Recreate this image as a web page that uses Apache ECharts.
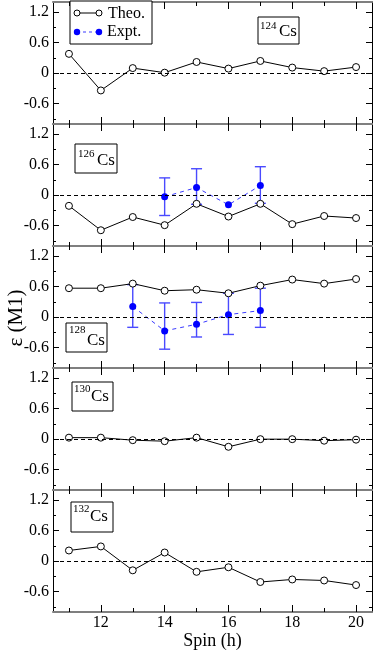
<!DOCTYPE html>
<html><head><meta charset="utf-8">
<script src="https://cdn.jsdelivr.net/npm/echarts@6/dist/echarts.min.js"></script>
<style>html,body{margin:0;padding:0;background:#fff}#c{width:374px;height:651px}</style>
</head><body><div id="c"></div>
<script>
// ---- data ----
const spins = [11, 12, 13, 14, 15, 16, 17, 18, 19, 20];
const nuclei = ['124', '126', '128', '130', '132'];
const theo124 = [0.38, -0.34, 0.10, 0.01, 0.22, 0.09, 0.24, 0.11, 0.04, 0.12];
const theo126 = [-0.21, -0.69, -0.43, -0.59, -0.17, -0.42, -0.17, -0.57, -0.41, -0.45];
const theo128 = [0.57, 0.57, 0.66, 0.52, 0.54, 0.47, 0.62, 0.74, 0.66, 0.75];
const theo130 = [0.03, 0.03, -0.02, -0.04, 0.03, -0.15, 0.00, 0.00, -0.03, -0.01];
const theo132 = [0.21, 0.29, -0.18, 0.17, -0.21, -0.12, -0.41, -0.36, -0.38, -0.47];

const exptSpins126 = [14, 15, 16, 17];
const expt126 = [-0.03, 0.15, -0.19, 0.19];
const errUp126 = [0.37, 0.37, null, 0.37];
const errDown126 = [0.37, 0.33, null, 0.35];

const exptSpins128 = [13, 14, 15, 16, 17];
const expt128 = [0.21, -0.27, -0.14, 0.05, 0.13];
const errUp128 = [0.43, 0.55, 0.43, 0.42, 0.44];
const errDown128 = [0.41, 0.36, 0.25, 0.39, 0.33];

const yMajorTicks = [-0.6, 0, 0.6, 1.2];
const yMinorTicks = [-0.9, -0.3, 0.3, 0.9];
const xMajorTicks = [12, 14, 16, 18, 20];
const xMinorTicks = [11, 13, 15, 17, 19];

// ---- layout ----
const FONT = "'Liberation Serif', 'Times New Roman', serif";
const tops = [2, 124, 246, 368, 490];
const PH = 122, LEFT = 53, WIDTH = 319;
const theoAll = [theo124, theo126, theo128, theo130, theo132];
const expts = {1: [exptSpins126, expt126, errUp126, errDown126], 2: [exptSpins128, expt128, errUp128, errDown128]};

const grids = [], xAxes = [], yAxes = [], series = [];
tops.forEach((t, p) => {
  grids.push({left: LEFT, top: t, width: WIDTH, height: PH, containLabel: false, outerBoundsMode: 'none'});
  const isLast = p === 4;
  const mkX = (pos, ticks, len, showLine, labels) => ({
    gridIndex: p, type: 'value', min: 10.5, max: 20.5, position: pos,
    splitLine: {show: false},
    axisLine: {show: showLine, onZero: false, lineStyle: {color: '#7f7f7f', width: 2}},
    axisTick: {show: true, inside: true, length: len, customValues: ticks, lineStyle: {color: '#000', width: 1}},
    axisLabel: labels ? {show: true, customValues: ticks, margin: 3, color: '#000', fontSize: 16, fontFamily: FONT} : {show: false},
    name: (labels ? 'Spin (h)' : ''), nameLocation: 'middle', nameGap: 19,
    nameTextStyle: {fontSize: 18, fontFamily: FONT, color: '#000'}
  });
  const xb = xAxes.length;
  xAxes.push(mkX('bottom', xMajorTicks, 7, true, isLast));
  xAxes.push(mkX('bottom', xMinorTicks, 4, false, false));
  xAxes.push(mkX('top', xMajorTicks, 7, true, false));
  xAxes.push(mkX('top', xMinorTicks, 4, false, false));
  const mkY = (pos, ticks, len, showLine, labels) => ({
    gridIndex: p, type: 'value', min: -1.0, max: 1.4, position: pos,
    splitLine: {show: false},
    axisLine: {show: showLine, onZero: false, lineStyle: {color: '#000', width: 1}},
    axisTick: {show: true, inside: true, length: len, customValues: ticks, lineStyle: {color: '#000', width: 1}},
    axisLabel: labels ? {show: true, customValues: ticks, margin: 4, color: '#000', fontSize: 16, fontFamily: FONT,
      formatter: v => (Math.abs(v) < 1e-9 ? '0' : String(Math.round(v * 10) / 10))} : {show: false}
  });
  const yb = yAxes.length;
  yAxes.push(mkY('left', yMajorTicks, 6, true, true));
  yAxes.push(mkY('left', yMinorTicks, 3, false, false));
  yAxes.push(mkY('right', yMajorTicks, 6, true, false));
  yAxes.push(mkY('right', yMinorTicks, 3, false, false));

  const e = expts[p];
  if (e) {
    const [xs, vs, up, dn] = e;
    series.push({
      type: 'custom', xAxisIndex: xb, yAxisIndex: yb, z: 2, silent: true,
      encode: {x: 0, y: [1, 2]},
      data: xs.map((x, i) => up[i] == null ? null : [x, vs[i] - dn[i], vs[i] + up[i]]).filter(Boolean),
      renderItem: (params, api) => {
        const x = api.value(0);
        const a = api.coord([x, api.value(1)]);
        const b = api.coord([x, api.value(2)]);
        const w = 5.5;
        const style = {stroke: '#4a4aff', lineWidth: 1.4};
        return {type: 'group', children: [
          {type: 'line', shape: {x1: a[0], y1: a[1], x2: b[0], y2: b[1]}, style},
          {type: 'line', shape: {x1: a[0] - w, y1: a[1], x2: a[0] + w, y2: a[1]}, style},
          {type: 'line', shape: {x1: b[0] - w, y1: b[1], x2: b[0] + w, y2: b[1]}, style}
        ]};
      }
    });
    series.push({
      type: 'line', xAxisIndex: xb, yAxisIndex: yb, z: 3, silent: true, animation: false,
      data: xs.map((x, i) => [x, vs[i]]),
      symbol: 'circle', symbolSize: 7,
      itemStyle: {color: '#0000ff'},
      lineStyle: {color: '#3a3aff', width: 1, type: [4, 4]}
    });
  }
  series.push({
    type: 'line', xAxisIndex: xb, yAxisIndex: yb, z: 4, silent: true, animation: false,
    data: spins.map((s, i) => [s, theoAll[p][i]]),
    symbol: 'circle', symbolSize: 7, showAllSymbol: true,
    itemStyle: {color: '#fff', borderColor: '#000', borderWidth: 1},
    lineStyle: {color: '#000', width: 1},
    markLine: {silent: true, symbol: 'none', label: {show: false}, animation: false,
      lineStyle: {color: '#000', width: 1, type: [4, 3]}, data: [{yAxis: 0}]}
  });
});

// ---- annotation boxes ----
const boxes = [
  {x: 258, y: 17, w: 41, h: 27, sx: 260, sy: 21, cx: 279, cy: 32},
  {x: 75, y: 144, w: 42, h: 29, sx: 78, sy: 149, cx: 97, cy: 161},
  {x: 66, y: 323, w: 41, h: 29, sx: 69, sy: 325, cx: 87, cy: 341},
  {x: 72, y: 382, w: 41, h: 29, sx: 74, sy: 384, cx: 91, cy: 397},
  {x: 71, y: 502, w: 42, h: 30, sx: 73, sy: 504, cx: 90, cy: 517}
];
const graphics = [];
boxes.forEach((b, i) => {
  graphics.push({type: 'rect', shape: {x: b.x, y: b.y, width: b.w, height: b.h}, style: {fill: '#fff', stroke: '#000', lineWidth: 1}, z: 10});
  graphics.push({type: 'text', x: b.sx, y: b.sy, z: 11, style: {text: nuclei[i], fontSize: 11, fontFamily: FONT, fill: '#000', textVerticalAlign: 'top'}});
  graphics.push({type: 'text', x: b.cx, y: b.cy, z: 11, style: {text: 'Cs', fontSize: 17, fontFamily: FONT, fill: '#000', textVerticalAlign: 'middle'}});
});
// legend
graphics.push({type: 'rect', shape: {x: 70, y: 1, width: 82, height: 43}, style: {fill: '#fff', stroke: '#000', lineWidth: 1}, z: 10});
graphics.push({type: 'line', shape: {x1: 77, y1: 13, x2: 99, y2: 13}, style: {stroke: '#000', lineWidth: 1}, z: 11});
graphics.push({type: 'circle', shape: {cx: 77, cy: 13, r: 3}, style: {fill: '#fff', stroke: '#000', lineWidth: 1}, z: 12});
graphics.push({type: 'circle', shape: {cx: 99, cy: 13, r: 3}, style: {fill: '#fff', stroke: '#000', lineWidth: 1}, z: 12});
graphics.push({type: 'text', x: 108, y: 14, z: 11, style: {text: 'Theo.', fontSize: 16, fontFamily: FONT, fill: '#000', textVerticalAlign: 'middle'}});
graphics.push({type: 'line', shape: {x1: 77, y1: 32, x2: 99, y2: 32}, style: {stroke: '#3a3aff', lineWidth: 1, lineDash: [3, 3]}, z: 11});
graphics.push({type: 'circle', shape: {cx: 77, cy: 32, r: 3.2}, style: {fill: '#0000ff'}, z: 12});
graphics.push({type: 'circle', shape: {cx: 99, cy: 32, r: 3.2}, style: {fill: '#0000ff'}, z: 12});
graphics.push({type: 'text', x: 107, y: 32, z: 11, style: {text: 'Expt.', fontSize: 16, fontFamily: FONT, fill: '#000', textVerticalAlign: 'middle'}});
// y-axis title
graphics.push({type: 'text', x: 16, y: 318, rotation: Math.PI / 2, z: 11,
  style: {text: 'ε (M1)', fontSize: 21, fontFamily: FONT, fill: '#000', textAlign: 'center', textVerticalAlign: 'middle'}});

const chart = echarts.init(document.getElementById('c'), null, {renderer: 'canvas'});
chart.setOption({
  animation: false,
  backgroundColor: '#fff',
  grid: grids, xAxis: xAxes, yAxis: yAxes, series: series,
  graphic: {elements: graphics}
});
</script></body></html>
